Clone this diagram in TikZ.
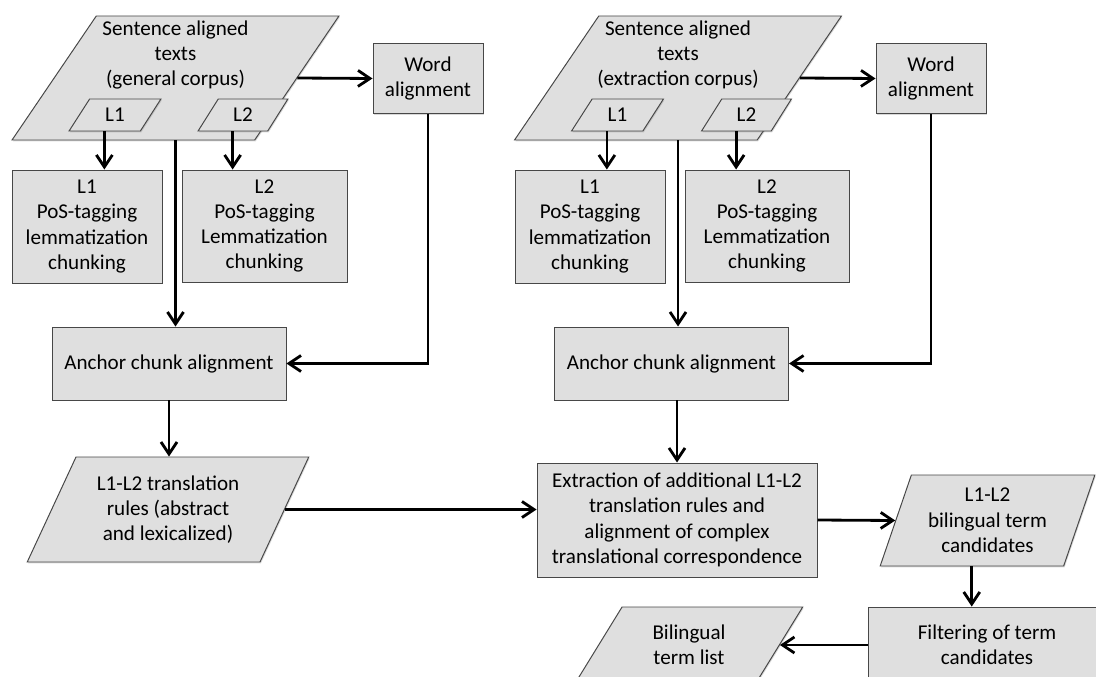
\documentclass[tikz,border=0pt]{standalone}
\usepackage{fontspec}
\setmainfont{Carlito}
\usetikzlibrary{arrows.meta, positioning, shapes.geometric, shadows}
\definecolor{BoxFill}{HTML}{DFDFDF}
\definecolor{BoxEdge}{HTML}{474747}

\begin{document}
\begin{tikzpicture}[font=\fontsize{15}{18}\selectfont,
  stepbox/.style={draw=BoxEdge,fill=BoxFill,line width=0.7pt,align=center,inner sep=2pt,drop shadow={shadow xshift=0.7pt,shadow yshift=-0.9pt,opacity=0.3}},
  databox/.style={stepbox,trapezium,trapezium left angle=62,trapezium right angle=118,trapezium stretches=true},
  flowarrow/.style={-{Straight Barb[length=3mm,width=4mm]},line width=2pt}]
\useasboundingbox (0,0) rectangle (27.4,-16.925);
\clip (0,0) rectangle (27.4,-16.925);
% general corpus
\node[databox,minimum width=8.175cm,minimum height=3.1cm] (gencorp) at (4.3875,-1.95) {};
\node[align=center] (gentext) at (4.3875,-1.375) {Sentence aligned\\texts\\(general corpus)};
\node[databox,minimum width=2.3cm,minimum height=0.8cm] (gl1) at (2.875,-2.875) {L1};
\node[databox,minimum width=2.25cm,minimum height=0.8cm] (gl2) at (6.075,-2.875) {L2};
\node[stepbox,minimum width=3.75cm,minimum height=2.825cm] (gpos1) at (2.175,-5.6625) {L1\\PoS-tagging\\lemmatization\\chunking};
\node[stepbox,minimum width=4.125cm,minimum height=2.8cm] (gpos2) at (6.6125,-5.65) {L2\\PoS-tagging\\Lemmatization\\chunking};
\node[stepbox,minimum width=2.75cm,minimum height=1.75cm] (gword) at (10.7,-1.9625) {Word\\alignment};
\node[stepbox,minimum width=5.85cm,minimum height=1.825cm] (ganchor) at (4.225,-9.0875) {Anchor chunk alignment};
\node[databox,minimum width=7.05cm,minimum height=2.625cm] (rules) at (4.2,-12.7375) {L1-L2 translation\\rules (abstract\\and lexicalized)};
% extraction corpus
\node[databox,minimum width=8.175cm,minimum height=3.1cm] (excorp) at (16.95,-1.95) {};
\node[align=center] (extext) at (16.95,-1.375) {Sentence aligned\\texts\\(extraction corpus)};
\node[databox,minimum width=2.3cm,minimum height=0.8cm] (el1) at (15.4375,-2.875) {L1};
\node[databox,minimum width=2.25cm,minimum height=0.8cm] (el2) at (18.6625,-2.875) {L2};
\node[stepbox,minimum width=3.75cm,minimum height=2.825cm] (epos1) at (14.75,-5.6625) {L1\\PoS-tagging\\lemmatization\\chunking};
\node[stepbox,minimum width=4.1cm,minimum height=2.8cm] (epos2) at (19.175,-5.65) {L2\\PoS-tagging\\Lemmatization\\chunking};
\node[stepbox,minimum width=2.75cm,minimum height=1.75cm] (eword) at (23.275,-1.9625) {Word\\alignment};
\node[stepbox,minimum width=5.85cm,minimum height=1.825cm] (eanchor) at (16.7875,-9.0875) {Anchor chunk alignment};
\node[stepbox,minimum width=7cm,minimum height=2.85cm] (extract) at (16.925,-13) {Extraction of additional L1-L2\\translation rules and\\alignment of complex\\translational correspondence};
\node[databox,trapezium left angle=70,trapezium right angle=110,minimum width=5.375cm,minimum height=2.275cm] (cands) at (24.6875,-13.0125) {L1-L2\\bilingual term\\candidates};
\node[stepbox,minimum width=5.95cm,minimum height=1.9cm] (filter) at (24.675,-16.125) {Filtering of term\\candidates};
\node[databox,trapezium left angle=59,trapezium right angle=121,minimum width=5.7cm,minimum height=1.9cm] (blist) at (17.225,-16.125) {Bilingual\\term list};
% connectors, left half
\draw[flowarrow] (gl1.bottom side) -- (gl1.bottom side |- gpos1.north);
\draw[flowarrow] (gl2.bottom side) -- (gl2.bottom side |- gpos2.north);
\draw[flowarrow] (gencorp.right side) -- (gword.west);
\draw[flowarrow] (gencorp.center |- gencorp.bottom side) -- (gencorp.center |- ganchor.north);
\draw[flowarrow] (gword.south) |- (ganchor.east);
\draw[flowarrow] (ganchor.south) -- (ganchor.south |- rules.top side);
\draw[flowarrow] (rules.right side) -- (rules.right side -| extract.west);
% connectors, right half
\draw[flowarrow] (el1.bottom side) -- (el1.bottom side |- epos1.north);
\draw[flowarrow] (el2.bottom side) -- (el2.bottom side |- epos2.north);
\draw[flowarrow] (excorp.right side) -- (eword.west);
\draw[flowarrow] (excorp.center |- excorp.bottom side) -- (excorp.center |- eanchor.north);
\draw[flowarrow] (eword.south) |- (eanchor.east);
\draw[flowarrow] (extract.north |- eanchor.south) -- (extract.north);
\draw[flowarrow] (extract.east) -- (cands.left side);
\draw[flowarrow] (cands.bottom side) -- (cands.bottom side |- filter.north);
\draw[flowarrow] (filter.west) -- (blist.right side);
\end{tikzpicture}
\end{document}
